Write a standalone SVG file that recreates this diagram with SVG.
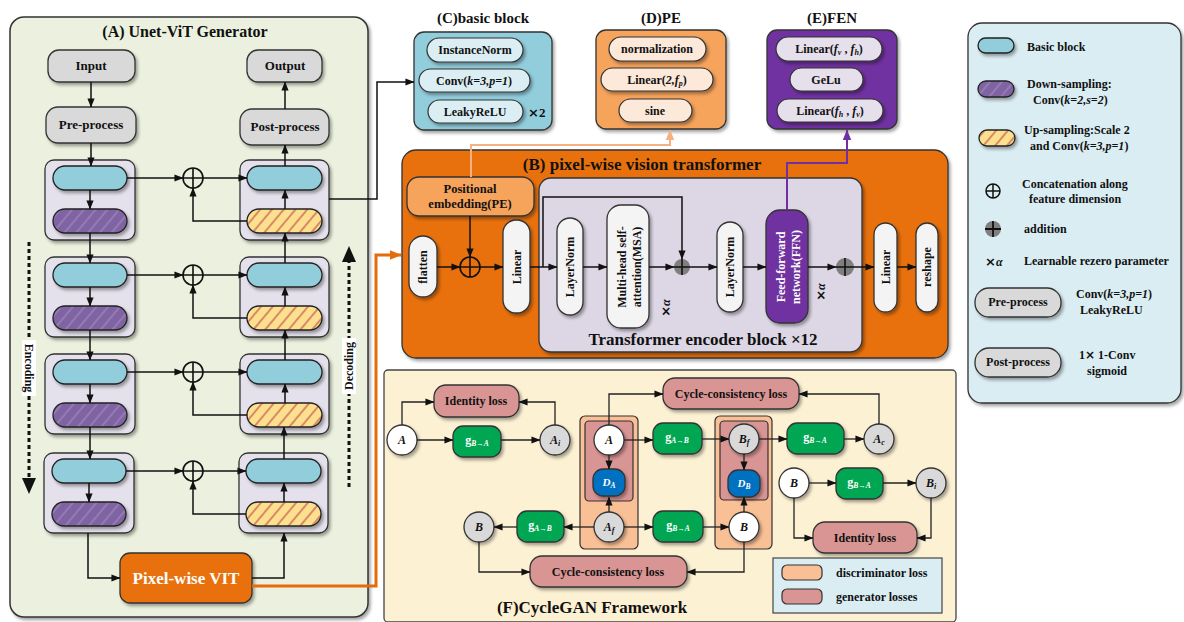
<svg xmlns="http://www.w3.org/2000/svg" width="1184" height="622" viewBox="0 0 1184 622">
<defs>
<style>
text{font-family:"Liberation Serif","Times New Roman",serif;font-weight:bold;fill:#111}
.m{text-anchor:middle}
.ln{fill:none;stroke:#111;stroke-width:1.5}
.lf{fill:none;stroke:#222;stroke-width:1.3}
.gray{fill:#d9d9d9;stroke:#333;stroke-width:1.3}
.blk{fill:#e4e1ec;stroke:#333;stroke-width:1.3}
.blue{fill:#92cddc;stroke:#222;stroke-width:1.3}
.purp{fill:url(#hpurp);stroke:#222;stroke-width:1.3}
.yel{fill:url(#hyel);stroke:#222;stroke-width:1.3}
.wp{fill:#f4f4f4;stroke:#333;stroke-width:1.3}
.loss{fill:#d99594;stroke:#333;stroke-width:1.3}
.grn{fill:#00a651;stroke:#333;stroke-width:1.3}
.db{fill:#0070c0;stroke:#333;stroke-width:1.3}
.cw{fill:#ffffff;stroke:#333;stroke-width:1.3}
.cg{fill:#d9d9d9;stroke:#333;stroke-width:1.3}
.wt{fill:#fff}
.it{font-style:italic}
.x{font-family:"DejaVu Sans",sans-serif;font-weight:bold}
</style>
<filter id="sh" x="-20%" y="-20%" width="150%" height="160%">
<feDropShadow dx="2" dy="2.5" stdDeviation="1.6" flood-color="#000" flood-opacity="0.35"/>
</filter>
<pattern id="hpurp" patternUnits="userSpaceOnUse" width="9" height="9" patternTransform="rotate(40)">
<rect width="9" height="9" fill="#8064a2"/>
<line x1="1" y1="0" x2="1" y2="9" stroke="#a996c6" stroke-width="0.9"/>
</pattern>
<pattern id="hyel" patternUnits="userSpaceOnUse" width="9" height="9" patternTransform="rotate(40)">
<rect width="9" height="9" fill="#fde08e"/>
<line x1="1" y1="0" x2="1" y2="9" stroke="#c0504d" stroke-width="1.2"/>
</pattern>
<marker id="ah" viewBox="0 0 10 10" refX="9.5" refY="5" markerWidth="9" markerHeight="9" markerUnits="userSpaceOnUse" orient="auto"><path d="M0,1 L10,5 L0,9 z" fill="#111"/></marker>
<marker id="aho" viewBox="0 0 10 10" refX="9.5" refY="5" markerWidth="12" markerHeight="12" markerUnits="userSpaceOnUse" orient="auto"><path d="M0,1 L10,5 L0,9 z" fill="#e46c0a"/></marker>
<marker id="ahl" viewBox="0 0 10 10" refX="9.5" refY="5" markerWidth="11" markerHeight="11" markerUnits="userSpaceOnUse" orient="auto"><path d="M0,1 L10,5 L0,9 z" fill="#f4b183"/></marker>
<marker id="ahp" viewBox="0 0 10 10" refX="9.5" refY="5" markerWidth="11" markerHeight="11" markerUnits="userSpaceOnUse" orient="auto"><path d="M0,1 L10,5 L0,9 z" fill="#7030a0"/></marker>
</defs>

<g id="panelA">
<rect x="10" y="17" width="358" height="600" rx="14" fill="#ebf1de" stroke="#333" stroke-width="1.5" filter="url(#sh)"/>
<text x="185" y="37" class="m" font-size="16">(A)  Unet-ViT Generator</text>
</g>
<g id="panelF">
<rect x="384" y="370" width="572" height="252" rx="4" fill="#fdf1d4" stroke="#444" stroke-width="1.3"/>
<text x="592" y="613" class="m" font-size="17">(F)CycleGAN Framework</text>
</g>
<g id="panelB">
<rect x="402" y="150" width="546" height="208" rx="14" fill="#e8710e" stroke="#333" stroke-width="1.3" filter="url(#sh)"/>
<text x="642" y="170" class="m" font-size="17">(B) pixel-wise vision transformer</text>
<rect x="539" y="178" width="323" height="174" rx="12" fill="#dcd6e5" stroke="#333" stroke-width="1.3" filter="url(#sh)"/>
<text x="703" y="345" class="m" font-size="17">Transformer encoder block ×12</text>
</g>
<g id="legend">
<rect x="968" y="23" width="213" height="380" rx="14" fill="#daedf3" stroke="#333" stroke-width="1.3" filter="url(#sh)"/>
<rect x="978" y="38" width="36" height="15" rx="7.5" class="blue" filter="url(#sh)"/>
<text x="1027" y="51" font-size="12">Basic block</text>
<rect x="978" y="81" width="36" height="16" rx="8" class="purp" filter="url(#sh)"/>
<text x="1027" y="88" font-size="12">Down-sampling:</text>
<text x="1033" y="104" font-size="12">Conv(<tspan class="it">k=2,s=2</tspan>)</text>
<rect x="979" y="130" width="36" height="16" rx="8" class="yel" filter="url(#sh)"/>
<text x="1024" y="134" font-size="12">Up-sampling:Scale 2</text>
<text x="1030" y="150" font-size="12">and Conv(<tspan class="it">k=3,p=1</tspan>)</text>
<circle cx="993" cy="191" r="7" fill="none" stroke="#111" stroke-width="1.5"/>
<path d="M986,191 H1000 M993,184 V198" stroke="#111" stroke-width="1.5"/>
<text x="1022" y="188" font-size="12">Concatenation along</text>
<text x="1029" y="203" font-size="12">feature dimension</text>
<circle cx="993" cy="229" r="8" fill="#7f7f7f"/>
<path d="M985,229 H1001 M993,221 V237" stroke="#111" stroke-width="1.8"/>
<text x="1024" y="233" font-size="12">addition</text>
<text x="985" y="266" font-size="13"><tspan class="x">×</tspan><tspan class="it" font-size="12">α</tspan></text>
<text x="1024" y="265" font-size="12">Learnable rezero parameter</text>
<rect x="975" y="288" width="86" height="29" rx="14" class="gray" filter="url(#sh)"/>
<text x="1018" y="306" class="m" font-size="12">Pre-process</text>
<text x="1076" y="298" font-size="12">Conv(<tspan class="it">k=3,p=1</tspan>)</text>
<text x="1080" y="314" font-size="12">LeakyReLU</text>
<rect x="975" y="348" width="86" height="29" rx="14" class="gray" filter="url(#sh)"/>
<text x="1018" y="366" class="m" font-size="12">Post-process</text>
<text x="1079" y="359" font-size="12">1<tspan class="x">×</tspan> 1-Conv</text>
<text x="1087" y="375" font-size="12">sigmoid</text>
</g>

<g id="panelC">
<text x="483" y="23" class="m" font-size="15">(C)basic block</text>
<rect x="414" y="32" width="138" height="98" rx="10" fill="#92cddc" stroke="#333" stroke-width="1.3" filter="url(#sh)"/>
<rect x="427" y="38" width="96" height="24" rx="12" fill="#dbeef4" stroke="#333" stroke-width="1.2" filter="url(#sh)"/>
<text x="475" y="54" class="m" font-size="12">InstanceNorm</text>
<rect x="419" y="69" width="111" height="23" rx="11.5" fill="#dbeef4" stroke="#333" stroke-width="1.2" filter="url(#sh)"/>
<text x="474" y="85" class="m" font-size="12">Conv(<tspan class="it">k=3,p=1</tspan>)</text>
<rect x="428" y="100" width="95" height="23" rx="11.5" fill="#dbeef4" stroke="#333" stroke-width="1.2" filter="url(#sh)"/>
<text x="475" y="116" class="m" font-size="12">LeakyReLU</text>
<text x="528" y="117" font-size="13"><tspan class="x">×</tspan>2</text>
</g>
<g id="panelD">
<text x="661" y="23" class="m" font-size="15">(D)PE</text>
<rect x="596" y="30" width="130" height="99" rx="10" fill="#f6a35b" stroke="#333" stroke-width="1.3" filter="url(#sh)"/>
<rect x="609" y="37" width="97" height="24" rx="12" fill="#fde9d9" stroke="#333" stroke-width="1.2" filter="url(#sh)"/>
<text x="657" y="53" class="m" font-size="12">normalization</text>
<rect x="601" y="68" width="112" height="23" rx="11.5" fill="#fde9d9" stroke="#333" stroke-width="1.2" filter="url(#sh)"/>
<text x="657" y="84" class="m" font-size="12">Linear(<tspan class="it">2,f</tspan><tspan class="it" font-size="8" dy="2">p</tspan><tspan dy="-2">)</tspan></text>
<rect x="619" y="99" width="73" height="23" rx="11.5" fill="#fde9d9" stroke="#333" stroke-width="1.2" filter="url(#sh)"/>
<text x="655" y="115" class="m" font-size="12">sine</text>
</g>
<g id="panelE">
<text x="832" y="23" class="m" font-size="15">(E)FEN</text>
<rect x="767" y="30" width="130" height="99" rx="10" fill="#7030a0" stroke="#333" stroke-width="1.3" filter="url(#sh)"/>
<rect x="776" y="37" width="106" height="24" rx="12" fill="#e6e0ec" stroke="#333" stroke-width="1.2" filter="url(#sh)"/>
<text x="829" y="53" class="m" font-size="12">Linear(<tspan class="it">f</tspan><tspan class="it" font-size="8" dy="2">v</tspan><tspan dy="-2"> , </tspan><tspan class="it">f</tspan><tspan class="it" font-size="8" dy="2">h</tspan><tspan dy="-2">)</tspan></text>
<rect x="790" y="68" width="73" height="23" rx="11.5" fill="#e6e0ec" stroke="#333" stroke-width="1.2" filter="url(#sh)"/>
<text x="826" y="84" class="m" font-size="12">GeLu</text>
<rect x="777" y="99" width="106" height="23" rx="11.5" fill="#e6e0ec" stroke="#333" stroke-width="1.2" filter="url(#sh)"/>
<text x="830" y="115" class="m" font-size="12">Linear(<tspan class="it">f</tspan><tspan class="it" font-size="8" dy="2">h</tspan><tspan dy="-2"> , </tspan><tspan class="it">f</tspan><tspan class="it" font-size="8" dy="2">v</tspan><tspan dy="-2">)</tspan></text>
</g>

<g id="input"><rect x="48" y="50" width="87" height="32" rx="11" class="gray" filter="url(#sh)"/><text x="91" y="70" class="m" font-size="13">Input</text></g>
<g id="preprocess"><rect x="46" y="107" width="90" height="36" rx="12" class="gray" filter="url(#sh)"/><text x="91" y="129" class="m" font-size="13">Pre-process</text></g>
<g id="output"><rect x="247" y="50" width="75" height="32" rx="11" class="gray" filter="url(#sh)"/><text x="285" y="70" class="m" font-size="13">Output</text></g>
<g id="postprocess"><rect x="240" y="109" width="89" height="36" rx="12" class="gray" filter="url(#sh)"/><text x="285" y="131" class="m" font-size="13">Post-process</text></g>

<g id="enc1"><rect x="45" y="160" width="90" height="80" rx="9" class="blk" filter="url(#sh)"/><rect x="53" y="166" width="74" height="24" rx="12" class="blue" filter="url(#sh)"/><rect x="53" y="209" width="74" height="24" rx="12" class="purp" filter="url(#sh)"/></g>
<g id="enc2"><rect x="45" y="257" width="90" height="80" rx="9" class="blk" filter="url(#sh)"/><rect x="53" y="263" width="74" height="24" rx="12" class="blue" filter="url(#sh)"/><rect x="53" y="306" width="74" height="24" rx="12" class="purp" filter="url(#sh)"/></g>
<g id="enc3"><rect x="45" y="354" width="90" height="80" rx="9" class="blk" filter="url(#sh)"/><rect x="53" y="360" width="74" height="24" rx="12" class="blue" filter="url(#sh)"/><rect x="53" y="403" width="74" height="24" rx="12" class="purp" filter="url(#sh)"/></g>
<g id="enc4"><rect x="44" y="453" width="90" height="80" rx="9" class="blk" filter="url(#sh)"/><rect x="52" y="459" width="74" height="24" rx="12" class="blue" filter="url(#sh)"/><rect x="52" y="502" width="74" height="24" rx="12" class="purp" filter="url(#sh)"/></g>

<g id="dec1"><rect x="240" y="160" width="89" height="80" rx="9" class="blk" filter="url(#sh)"/><rect x="247" y="166" width="75" height="24" rx="12" class="blue" filter="url(#sh)"/><rect x="247" y="209" width="75" height="24" rx="12" class="yel" filter="url(#sh)"/></g>
<g id="dec2"><rect x="240" y="257" width="89" height="80" rx="9" class="blk" filter="url(#sh)"/><rect x="247" y="263" width="75" height="24" rx="12" class="blue" filter="url(#sh)"/><rect x="247" y="306" width="75" height="24" rx="12" class="yel" filter="url(#sh)"/></g>
<g id="dec3"><rect x="240" y="354" width="89" height="80" rx="9" class="blk" filter="url(#sh)"/><rect x="247" y="360" width="75" height="24" rx="12" class="blue" filter="url(#sh)"/><rect x="247" y="403" width="75" height="24" rx="12" class="yel" filter="url(#sh)"/></g>
<g id="dec4"><rect x="239" y="453" width="89" height="80" rx="9" class="blk" filter="url(#sh)"/><rect x="246" y="459" width="75" height="24" rx="12" class="blue" filter="url(#sh)"/><rect x="246" y="502" width="75" height="24" rx="12" class="yel" filter="url(#sh)"/></g>

<g id="concats" fill="none" stroke="#111" stroke-width="1.6">
<circle cx="193" cy="178" r="10"/><path d="M183,178 H203 M193,168 V188"/>
<circle cx="193" cy="275" r="10"/><path d="M183,275 H203 M193,265 V285"/>
<circle cx="193" cy="372" r="10"/><path d="M183,372 H203 M193,362 V382"/>
<circle cx="193" cy="471" r="10"/><path d="M183,471 H203 M193,461 V481"/>
</g>

<g id="pixelvit"><rect x="120" y="553" width="132" height="50" rx="10" fill="#e8710e" stroke="#333" stroke-width="1.3" filter="url(#sh)"/><text x="186" y="584" class="m wt" font-size="17">Pixel-wise VIT</text></g>

<g id="encoding-label">
<path d="M29,242 V480" stroke="#111" stroke-width="3" stroke-dasharray="4 3" fill="none"/>
<polygon points="22,478 36,478 29,494" fill="#111"/>
<rect x="22" y="340" width="14" height="56" fill="#fff"/>
<text transform="translate(25,368) rotate(90)" class="m" font-size="12">Encoding</text>
</g>
<g id="decoding-label">
<path d="M349,487 V260" stroke="#111" stroke-width="3" stroke-dasharray="4 3" fill="none"/>
<polygon points="342,262 356,262 349,246" fill="#111"/>
<rect x="342" y="338" width="14" height="56" fill="#fff"/>
<text transform="translate(353,366) rotate(-90)" class="m" font-size="12">Decoding</text>
</g>

<g id="pe"><rect x="407" y="177" width="127" height="39" rx="12" fill="#f6a35b" stroke="#333" stroke-width="1.3" filter="url(#sh)"/><text x="470" y="193" class="m" font-size="12.5">Positional</text><text x="470" y="208" class="m" font-size="12.5">embedding(PE)</text></g>
<g id="flatten"><rect x="409" y="236" width="28" height="61" rx="14" class="wp" filter="url(#sh)"/><text transform="translate(427,267) rotate(-90)" class="m" font-size="12">flatten</text></g>
<g id="pe-concat" fill="none" stroke="#111" stroke-width="1.6"><circle cx="470" cy="267" r="10"/><path d="M460,267 H480 M470,257 V277"/></g>
<g id="linear1"><rect x="503" y="220" width="27" height="93" rx="13" class="wp" filter="url(#sh)"/><text transform="translate(521,267) rotate(-90)" class="m" font-size="12">Linear</text></g>
<g id="layernorm1"><rect x="557" y="218" width="26" height="97" rx="13" class="wp" filter="url(#sh)"/><text transform="translate(574,267) rotate(-90)" class="m" font-size="12">LayerNorm</text></g>
<g id="msa"><rect x="607" y="205" width="42" height="123" rx="14" class="wp" filter="url(#sh)"/><text transform="translate(626,267) rotate(-90)" class="m" font-size="12">Multi-head self-</text><text transform="translate(641,267) rotate(-90)" class="m" font-size="12">attention(MSA)</text></g>
<text transform="translate(670,308) rotate(-90)" class="m" font-size="13"><tspan class="x">×</tspan><tspan class="it" font-size="12">α</tspan></text>
<g id="add1"><circle cx="682" cy="267" r="8" fill="#7f7f7f"/><path d="M674,267 H690 M682,259 V275" stroke="#111" stroke-width="1.6"/></g>
<g id="layernorm2"><rect x="717" y="222" width="26" height="90" rx="13" class="wp" filter="url(#sh)"/><text transform="translate(734,267) rotate(-90)" class="m" font-size="12">LayerNorm</text></g>
<g id="ffn"><rect x="766" y="210" width="42" height="113" rx="14" fill="#7030a0" stroke="#333" stroke-width="1.3" filter="url(#sh)"/><text transform="translate(785,267) rotate(-90)" class="m wt" font-size="12">Feed-forward</text><text transform="translate(800,267) rotate(-90)" class="m wt" font-size="12">network(FFN)</text></g>
<text transform="translate(825,292) rotate(-90)" class="m" font-size="13"><tspan class="x">×</tspan><tspan class="it" font-size="12">α</tspan></text>
<g id="add2"><circle cx="845" cy="267" r="9" fill="#7f7f7f"/><path d="M836,267 H854 M845,258 V276" stroke="#111" stroke-width="1.6"/></g>
<g id="linear2"><rect x="874" y="223" width="23" height="89" rx="11.5" class="wp" filter="url(#sh)"/><text transform="translate(890,267) rotate(-90)" class="m" font-size="12">Linear</text></g>
<g id="reshape"><rect x="916" y="223" width="22" height="89" rx="11" class="wp" filter="url(#sh)"/><text transform="translate(931,267) rotate(-90)" class="m" font-size="12">reshape</text></g>

<g id="idloss1"><rect x="434" y="385" width="85" height="32" rx="12" class="loss" filter="url(#sh)"/><text x="476" y="405" class="m" font-size="12">Identity loss</text></g>
<g id="cycloss-top"><rect x="663" y="378" width="136" height="31" rx="12" class="loss" filter="url(#sh)"/><text x="731" y="398" class="m" font-size="12">Cycle-consistency loss</text></g>
<g id="cycloss-bottom"><rect x="530" y="556" width="157" height="31" rx="12" class="loss" filter="url(#sh)"/><text x="608" y="576" class="m" font-size="12">Cycle-consistency loss</text></g>
<g id="idloss2"><rect x="813" y="522" width="104" height="31" rx="12" class="loss" filter="url(#sh)"/><text x="865" y="542" class="m" font-size="12">Identity loss</text></g>

<g id="discA"><rect x="580" y="416" width="58" height="133" rx="5" fill="#f9c096" stroke="#333" stroke-width="1.2"/><rect x="585" y="421" width="48" height="80" rx="4" fill="#d99594" stroke="#333" stroke-width="1.2"/></g>
<g id="discB"><rect x="715" y="416" width="57" height="133" rx="5" fill="#f9c096" stroke="#333" stroke-width="1.2"/><rect x="720" y="421" width="48" height="79" rx="4" fill="#d99594" stroke="#333" stroke-width="1.2"/></g>

<g id="nA1"><circle cx="402" cy="440" r="15" class="cw" filter="url(#sh)"/><text x="402" y="444" class="m it" font-size="12">A</text></g>
<g id="gBA1"><rect x="453" y="426" width="48" height="31" rx="10" class="grn" filter="url(#sh)"/><text x="477" y="444" class="m wt" font-size="12">g<tspan class="it" font-size="7.5" dy="1.5">B→A</tspan></text></g>
<g id="nAi"><circle cx="555" cy="440" r="15" class="cg" filter="url(#sh)"/><text x="555" y="444" class="m it" font-size="12">A<tspan font-size="8" dy="2">i</tspan></text></g>
<g id="nA2"><circle cx="609" cy="440" r="15" class="cw" filter="url(#sh)"/><text x="609" y="444" class="m it" font-size="12">A</text></g>
<g id="DA"><rect x="593" y="469" width="32" height="27" rx="10" class="db" filter="url(#sh)"/><text x="609" y="486" class="m it wt" font-size="11">D<tspan font-size="7.5" dy="2">A</tspan></text></g>
<g id="nAf"><circle cx="609" cy="527" r="15" class="cg" filter="url(#sh)"/><text x="609" y="531" class="m it" font-size="12">A<tspan font-size="8" dy="2">f</tspan></text></g>
<g id="gAB1"><rect x="517" y="511" width="47" height="31" rx="10" class="grn" filter="url(#sh)"/><text x="540" y="529" class="m wt" font-size="12">g<tspan class="it" font-size="7.5" dy="1.5">A→B</tspan></text></g>
<g id="nB1"><circle cx="479" cy="527" r="15" class="cg" filter="url(#sh)"/><text x="479" y="531" class="m it" font-size="12">B</text></g>
<g id="gBA2"><rect x="653" y="511" width="50" height="31" rx="10" class="grn" filter="url(#sh)"/><text x="678" y="529" class="m wt" font-size="12">g<tspan class="it" font-size="7.5" dy="1.5">B→A</tspan></text></g>
<g id="gAB2"><rect x="653" y="423" width="49" height="31" rx="10" class="grn" filter="url(#sh)"/><text x="677" y="441" class="m wt" font-size="12">g<tspan class="it" font-size="7.5" dy="1.5">A→B</tspan></text></g>
<g id="nBf"><circle cx="744" cy="439" r="15" class="cg" filter="url(#sh)"/><text x="744" y="443" class="m it" font-size="12">B<tspan font-size="8" dy="2">f</tspan></text></g>
<g id="DB"><rect x="728" y="470" width="32" height="27" rx="10" class="db" filter="url(#sh)"/><text x="744" y="487" class="m it wt" font-size="11">D<tspan font-size="7.5" dy="2">B</tspan></text></g>
<g id="nB2"><circle cx="744" cy="527" r="15" class="cw" filter="url(#sh)"/><text x="744" y="531" class="m it" font-size="12">B</text></g>
<g id="gBA3"><rect x="787" y="423" width="57" height="31" rx="10" class="grn" filter="url(#sh)"/><text x="815" y="441" class="m wt" font-size="12">g<tspan class="it" font-size="7.5" dy="1.5">B→A</tspan></text></g>
<g id="nAc"><circle cx="879" cy="439" r="15" class="cg" filter="url(#sh)"/><text x="879" y="443" class="m it" font-size="12">A<tspan font-size="8" dy="2">c</tspan></text></g>
<g id="nB3"><circle cx="794" cy="483" r="15" class="cw" filter="url(#sh)"/><text x="794" y="487" class="m it" font-size="12">B</text></g>
<g id="gBA4"><rect x="836" y="468" width="47" height="31" rx="10" class="grn" filter="url(#sh)"/><text x="859" y="486" class="m wt" font-size="12">g<tspan class="it" font-size="7.5" dy="1.5">B→A</tspan></text></g>
<g id="nBi"><circle cx="931" cy="483" r="15" class="cg" filter="url(#sh)"/><text x="931" y="487" class="m it" font-size="12">B<tspan font-size="8" dy="2">i</tspan></text></g>

<g id="legendF">
<rect x="773" y="558" width="169" height="55" fill="#daedf3" stroke="#444" stroke-width="1.2"/>
<rect x="782" y="565" width="40" height="15" rx="5" fill="#f9c096" stroke="#333" stroke-width="1.2"/>
<text x="836" y="577" font-size="12">discriminator loss</text>
<rect x="782" y="589" width="40" height="15" rx="5" fill="#d99594" stroke="#333" stroke-width="1.2"/>
<text x="836" y="601" font-size="12">generator losses</text>
</g>

<g id="connectors">
<path class="ln" d="M91,82 V107" marker-end="url(#ah)"/>
<path class="ln" d="M91,143 V166" marker-end="url(#ah)"/>
<path class="ln" d="M90,190 V209" marker-end="url(#ah)"/>
<path class="ln" d="M90,233 V263" marker-end="url(#ah)"/>
<path class="ln" d="M90,287 V306" marker-end="url(#ah)"/>
<path class="ln" d="M90,330 V360" marker-end="url(#ah)"/>
<path class="ln" d="M90,384 V403" marker-end="url(#ah)"/>
<path class="ln" d="M90,427 V459" marker-end="url(#ah)"/>
<path class="ln" d="M89,483 V502" marker-end="url(#ah)"/>
<path class="ln" d="M88,533 V578 H120" marker-end="url(#ah)"/>
<path class="ln" d="M127,178 H183" marker-end="url(#ah)"/>
<path class="ln" d="M127,275 H183" marker-end="url(#ah)"/>
<path class="ln" d="M127,372 H183" marker-end="url(#ah)"/>
<path class="ln" d="M126,471 H183" marker-end="url(#ah)"/>
<path class="ln" d="M203,178 H247" marker-end="url(#ah)"/>
<path class="ln" d="M203,275 H247" marker-end="url(#ah)"/>
<path class="ln" d="M203,372 H247" marker-end="url(#ah)"/>
<path class="ln" d="M203,471 H246" marker-end="url(#ah)"/>
<path class="ln" d="M247,221 H193 V188" marker-end="url(#ah)"/>
<path class="ln" d="M247,318 H193 V285" marker-end="url(#ah)"/>
<path class="ln" d="M247,415 H193 V382" marker-end="url(#ah)"/>
<path class="ln" d="M246,514 H193 V481" marker-end="url(#ah)"/>
<path class="ln" d="M252,578 H284 V533" marker-end="url(#ah)"/>
<path class="ln" d="M284,502 V483" marker-end="url(#ah)"/>
<path class="ln" d="M284,459 V427" marker-end="url(#ah)"/>
<path class="ln" d="M285,403 V384" marker-end="url(#ah)"/>
<path class="ln" d="M285,360 V330" marker-end="url(#ah)"/>
<path class="ln" d="M285,306 V287" marker-end="url(#ah)"/>
<path class="ln" d="M285,263 V233" marker-end="url(#ah)"/>
<path class="ln" d="M285,209 V190" marker-end="url(#ah)"/>
<path class="ln" d="M285,166 V145" marker-end="url(#ah)"/>
<path class="ln" d="M285,109 V82" marker-end="url(#ah)"/>
<path class="ln" d="M329,199 H377 V82 H414" marker-end="url(#ah)"/>
<path d="M252,586 H376 V255 H401" fill="none" stroke="#e46c0a" stroke-width="3" marker-end="url(#aho)"/>
<path d="M471,177 V145 H670 V130" fill="none" stroke="#f4b183" stroke-width="2" marker-end="url(#ahl)"/>
<path d="M787,210 V163 H847 V130" fill="none" stroke="#7030a0" stroke-width="2" marker-end="url(#ahp)"/>
<path class="ln" d="M437,267 H460" marker-end="url(#ah)"/>
<path class="ln" d="M470,216 V257" marker-end="url(#ah)"/>
<path class="ln" d="M480,267 H503" marker-end="url(#ah)"/>
<path class="ln" d="M530,267 H557" marker-end="url(#ah)"/>
<path class="ln" d="M543,267 V197 H682 V259" marker-end="url(#ah)"/>
<path class="ln" d="M583,267 H607" marker-end="url(#ah)"/>
<path class="ln" d="M649,267 H674" marker-end="url(#ah)"/>
<path class="ln" d="M690,267 H717" marker-end="url(#ah)"/>
<path class="ln" d="M743,267 H766" marker-end="url(#ah)"/>
<path class="ln" d="M808,267 H836" marker-end="url(#ah)"/>
<path class="ln" d="M854,267 H874" marker-end="url(#ah)"/>
<path class="ln" d="M897,267 H916" marker-end="url(#ah)"/>
<path class="lf" d="M417,440 H453" marker-end="url(#ah)"/>
<path class="lf" d="M501,440 H540" marker-end="url(#ah)"/>
<path class="lf" d="M402,425 V402 H434" marker-end="url(#ah)"/>
<path class="lf" d="M555,425 V402 H519" marker-end="url(#ah)"/>
<path class="lf" d="M609,425 V394 H663" marker-end="url(#ah)"/>
<path class="lf" d="M624,440 H653" marker-end="url(#ah)"/>
<path class="lf" d="M609,455 V469" marker-end="url(#ah)"/>
<path class="lf" d="M609,512 V497" marker-end="url(#ah)"/>
<path class="lf" d="M594,527 H564" marker-end="url(#ah)"/>
<path class="lf" d="M517,527 H494" marker-end="url(#ah)"/>
<path class="lf" d="M479,542 V572 H530" marker-end="url(#ah)"/>
<path class="lf" d="M624,527 H653" marker-end="url(#ah)"/>
<path class="lf" d="M703,527 H729" marker-end="url(#ah)"/>
<path class="lf" d="M744,542 V572 H687" marker-end="url(#ah)"/>
<path class="lf" d="M744,512 V497" marker-end="url(#ah)"/>
<path class="lf" d="M702,439 H729" marker-end="url(#ah)"/>
<path class="lf" d="M744,454 V470" marker-end="url(#ah)"/>
<path class="lf" d="M759,439 H787" marker-end="url(#ah)"/>
<path class="lf" d="M844,439 H864" marker-end="url(#ah)"/>
<path class="lf" d="M879,424 V394 H799" marker-end="url(#ah)"/>
<path class="lf" d="M809,483 H836" marker-end="url(#ah)"/>
<path class="lf" d="M883,483 H916" marker-end="url(#ah)"/>
<path class="lf" d="M794,498 V538 H813" marker-end="url(#ah)"/>
<path class="lf" d="M931,498 V538 H917" marker-end="url(#ah)"/>
</g>
</svg>
